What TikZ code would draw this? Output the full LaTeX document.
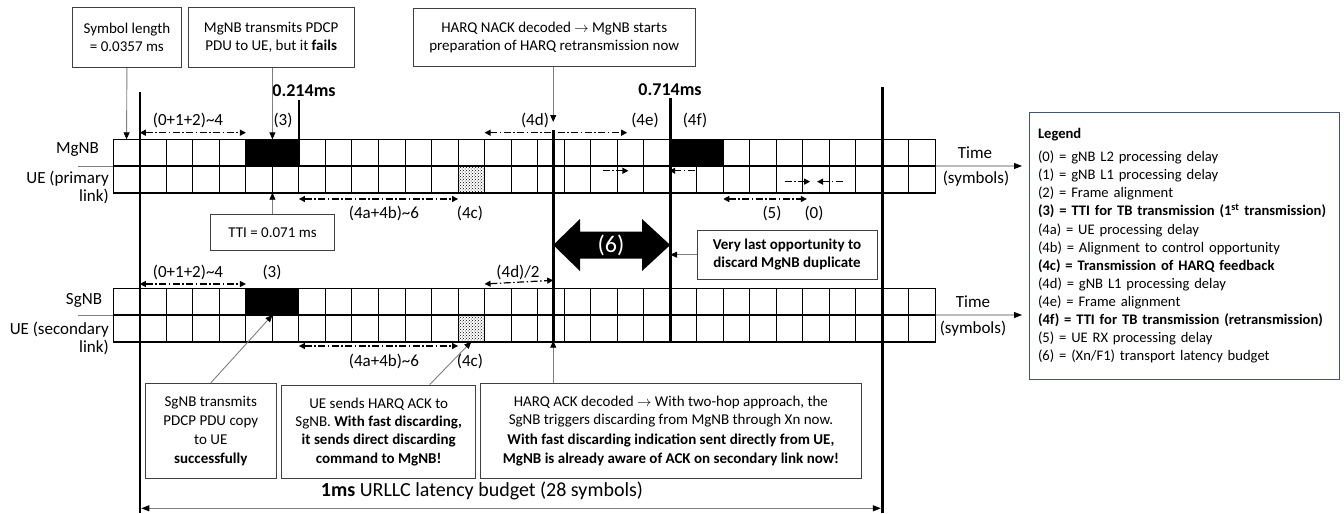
\documentclass[tikz,border=0pt]{standalone}
\usepackage{fontspec}
\setmainfont{Carlito}
\usetikzlibrary{arrows.meta,patterns}
\definecolor{boxc}{HTML}{404040}
\definecolor{callc}{HTML}{7F7F7F}
\definecolor{legc}{HTML}{44546A}

\begin{document}
\begin{tikzpicture}[x=1pt, y=-1pt,
  cell/.style={draw, line width=1pt, minimum width=26.52pt, minimum height=26.7pt, inner sep=0pt, outer sep=0pt},
  infobox/.style={draw=boxc, line width=0.9pt, align=center, inner sep=2pt, font=\fontsize{15}{18.3}\selectfont},
  lbl/.style={font=\fontsize{17}{20}\selectfont, inner sep=0pt},
  call/.style={callc, line width=0.9pt, -{Triangle[length=7pt,width=6pt,color=black]}},
  dashspan/.style={line width=1.2pt, dash pattern=on 7pt off 2.5pt on 1.5pt off 2.5pt, {Triangle[length=6pt,width=6pt]}-{Triangle[length=6pt,width=6pt]}},
  dashpoint/.style={line width=1.2pt, dash pattern=on 7pt off 2.5pt on 1.5pt off 2.5pt, -{Triangle[length=6pt,width=6pt]}},
  budget/.style={line width=2.6pt}]
  \useasboundingbox (0,0) rectangle (1344,514);

  % symbol grids
  \foreach \k in {0,...,30} {
    \node[cell] (m\k) at ({126.56+26.52*\k},152.65) {};
    \node[cell] (u\k) at ({126.56+26.52*\k},179.35) {};
    \node[cell] (s\k) at ({126.56+26.52*\k},301.65) {};
    \node[cell] (v\k) at ({126.56+26.52*\k},328.35) {};
  }
  \fill[black] (m5.north west) rectangle (m6.south east);
  \fill[black] (m21.north west) rectangle (m22.south east);
  \fill[black] (s5.north west) rectangle (s6.south east);
  \fill[pattern=crosshatch dots] (u13.north west) rectangle (u13.south east);
  \fill[pattern=crosshatch dots] (v13.north west) rectangle (v13.south east);
  \draw[line width=1pt] (u13.north west) rectangle (u13.south east);
  \draw[line width=1pt] (v13.north west) rectangle (v13.south east);
  \draw[line width=1.6pt] (m0.north west) rectangle (u30.south east);
  \draw[line width=1.6pt] (m0.south west) -- (m30.south east);
  \draw[line width=1.6pt] (s0.north west) rectangle (v30.south east);
  \draw[line width=1.6pt] (s0.south west) -- (s30.south east);
  \draw[callc, line width=0.8pt] (m0.south west) -- ++(-35,0);
  \draw[callc, line width=0.8pt] (s0.south west) -- ++(-35,0);

  % row names
  \node[lbl] (mgnb) at (77.5,150) {MgNB};
  \node[lbl, align=right, anchor=east, font=\fontsize{17}{18.3}\selectfont] (uep) at (109,187.5) {UE (primary\\link)};
  \node[lbl] (sgnb) at (84,300) {SgNB};
  \node[lbl, align=right, anchor=east, font=\fontsize{17}{18.3}\selectfont] (ues) at (109,338.5) {UE (secondary\\link)};

  % time marks
  \coordinate (b0t) at (139.8,92);
  \coordinate (b0b) at (139.8,513);
  \coordinate (b1t) at (882.4,87);
  \coordinate (b1b) at (882.4,513);
  \coordinate (t214) at (298.9,100);
  \coordinate (t714) at (670.2,98);
  \coordinate (tnack) at (553.2,130);
  \coordinate (nackpt) at (553.2,122);
  \coordinate (ackpt) at (553.2,340.7);
  \draw[budget] (b0t) -- (b0b);
  \draw[budget] (b1t) -- (b1b);
  \draw[budget] (t214) -- (t214 |- m0.south);
  \draw[budget] (t714) -- (t714 |- v0.south);
  \draw[budget] (tnack) -- (ackpt);
  \node[font=\bfseries\fontsize{18}{20}\selectfont, inner sep=0pt] (l214) at (304,90.5) {0.214ms};
  \node[font=\bfseries\fontsize{18}{20}\selectfont, inner sep=0pt] (l714) at (670,90) {0.714ms};

  % delays above/below primary link
  \draw[dashspan] ([yshift=6.6pt]m1.north west) -- ([yshift=6.6pt]m5.north west);
  \node[lbl] (d012a) at (188,120) {(0+1+2)\textasciitilde 4};
  \node[lbl] (d3a) at (283,120) {(3)};
  \draw[dashspan] ([yshift=6.6pt]m14.north west) -- ([xshift=10pt,yshift=6.6pt]m19.north west);
  \node[lbl] (d4d) at (535,120) {(4d)};
  \node[lbl] (d4e) at (645,120) {(4e)};
  \node[lbl] (d4f) at (695,120) {(4f)};
  \draw[dashpoint] ([xshift=-1pt,yshift=8.6pt]u18.center) -- ([xshift=-2pt,yshift=8.6pt]u19.center);
  \draw[dashpoint] ([xshift=-2pt,yshift=8.6pt]u21.east) -- ([xshift=-1pt,yshift=8.6pt]u21.west);
  \draw[dashpoint] ([xshift=-5pt,yshift=-2.3pt]u25.center) -- ([xshift=-6pt,yshift=-2.3pt]u26.center);
  \draw[dashpoint] ([xshift=0pt,yshift=-2.3pt]u27.center) -- ([xshift=1pt,yshift=-2.3pt]u26.center);
  \draw[dashspan] ([yshift=-6.3pt]u7.south west) -- ([yshift=-6.3pt]u13.south west);
  \node[lbl] (d4aba) at (384,213.3) {(4a+4b)\textasciitilde 6};
  \node[lbl] (d4ca) at (470,213.3) {(4c)};
  \draw[dashspan] ([yshift=-6.3pt]u23.south west) -- ([xshift=4pt,yshift=-6.3pt]u26.south west);
  \node[lbl] (d5) at (772,213) {(5)};
  \node[lbl] (d0) at (814,213) {(0)};

  % delays around secondary link
  \draw[dashspan] ([yshift=4.3pt]s1.north west) -- ([yshift=4.3pt]s5.north west);
  \node[lbl] (d012b) at (188,272.7) {(0+1+2)\textasciitilde 4};
  \node[lbl] (d3b) at (272,272.7) {(3)};
  \draw[dashspan] ([yshift=4.3pt]s14.north west) -- (tnack |- d012b.south);
  \node[lbl] (d4dh) at (518,272.7) {(4d)/2};
  \draw[dashspan] ([yshift=-4.3pt]v7.south west) -- ([yshift=-4.3pt]v13.south west);
  \node[lbl] (d4abb) at (384,361.7) {(4a+4b)\textasciitilde 6};
  \node[lbl] (d4cb) at (470,361.7) {(4c)};

  % transport budget (6)
  \fill[black] (553.2,245) -- (580,219) -- (580,231.5) -- (642,231.5) -- (642,219) -- (670.2,245)
    -- (642,271) -- (642,258.5) -- (580,258.5) -- (580,271) -- cycle;
  \node[white, font=\fontsize{24}{26}\selectfont, inner sep=0pt] (d6) at (611,245) {(6)};

  % time axis
  \coordinate (t1) at (1022,166);
  \coordinate (t2) at (1022,315);
  \draw[boxc, line width=0.8pt, -{Triangle[length=8pt,width=6pt,color=black]}] (m30.south east) -- (t1);
  \draw[boxc, line width=0.8pt, -{Triangle[length=8pt,width=6pt,color=black]}] (s30.south east) -- (t2);
  \node[lbl] (time1) at (975,152.7) {Time};
  \node[lbl] (sym1) at (976,179) {(symbols)};
  \node[lbl] (time2) at (973,301.7) {Time};
  \node[lbl] (sym2) at (973,328.3) {(symbols)};

  % annotation boxes
  \node[infobox, minimum width=108.3pt, minimum height=60.4pt] (symlen) at (126.9,37.5) {Symbol length\\= 0.0357 ms};
  \node[infobox, minimum width=165.7pt, minimum height=60.4pt] (failbox) at (271.2,37.5) {MgNB transmits PDCP\\PDU to UE, but it \textbf{fails}};
  \node[infobox, minimum width=281.7pt, minimum height=58.4pt] (nackbox) at (554.2,37.5) {HARQ NACK decoded $\rightarrow$ MgNB starts\\preparation of HARQ retransmission now};
  \node[infobox, minimum width=123.6pt, minimum height=35.7pt] (ttibox) at (272.5,232.2) {TTI = 0.071 ms};
  \node[infobox, minimum width=180pt, minimum height=49.3pt, font=\bfseries\fontsize{15}{18.3}\selectfont] (lastbox) at (787,254.7) {Very last opportunity to\\discard MgNB duplicate};
  \node[infobox, minimum width=131.7pt, minimum height=95pt, font=\fontsize{15}{19}\selectfont] (sgbox) at (210.8,430.8) {SgNB transmits\\PDCP PDU copy\\to UE\\\textbf{successfully}};
  \node[infobox, minimum width=194pt, minimum height=93.3pt] (uebox) at (378.7,431.7) {UE sends HARQ ACK to\\SgNB. \textbf{With fast discarding,}\\\textbf{it sends direct discarding}\\\textbf{command to MgNB!}};
  \node[infobox, minimum width=381.7pt, minimum height=94.7pt] (ackbox) at (670.9,430.7) {HARQ ACK decoded $\rightarrow$ With two-hop approach, the\\SgNB triggers discarding from MgNB through Xn now.\\[2pt]\textbf{With fast discarding indication sent directly from UE,}\\\textbf{MgNB is already aware of ACK on secondary link now!}};

  \draw[call] (symlen.south) -- (m0.north);
  \draw[call] (m5.north east |- failbox.south) -- (m5.north east);
  \draw[call] (nackpt |- nackbox.south) -- (nackpt);
  \draw[call] (u5.south east |- ttibox.north) -- (u5.south east);
  \draw[call] (lastbox.west) -- (t714 |- lastbox.west);
  \draw[call] (sgbox.north) -- (v5.north east);
  \draw[call] ([xshift=51pt]uebox.north) -- (v13.south);
  \draw[call] (ackpt |- ackbox.north) -- (ackpt);

  % latency budget
  \coordinate (bl) at (139.8,508.3);
  \coordinate (br) at (882.4,508.3);
  \draw[callc, line width=0.9pt, {Triangle[length=8pt,width=6pt,color=black]}-{Triangle[length=8pt,width=6pt,color=black]}, shorten <=1.5pt, shorten >=1.5pt] (bl) -- (br);
  \node[font=\fontsize{20}{22}\selectfont, inner sep=0pt] (budlbl) at (482,491) {\textbf{1ms} URLLC latency budget (28 symbols)};

  % legend
  \node[draw=legc, line width=1pt, minimum width=310pt, minimum height=267pt, text width=292pt, align=left,
    font=\fontsize{14.6}{18.1}\selectfont] (legend) at (1184,245.8) {%
    \textbf{Legend}\\[5pt]
    (0) = gNB L2 processing delay\\
    (1) = gNB L1 processing delay\\
    (2) = Frame alignment\\
    \textbf{(3) = TTI for TB transmission (1\textsuperscript{st} transmission)}\\
    (4a) = UE processing delay\\
    (4b) = Alignment to control opportunity\\
    \textbf{(4c) = Transmission of HARQ feedback}\\
    (4d) = gNB L1 processing delay\\
    (4e) = Frame alignment\\
    \textbf{(4f) = TTI for TB transmission (retransmission)}\\
    (5) = UE RX processing delay\\
    (6) = (Xn/F1) transport latency budget};
\end{tikzpicture}
\end{document}
